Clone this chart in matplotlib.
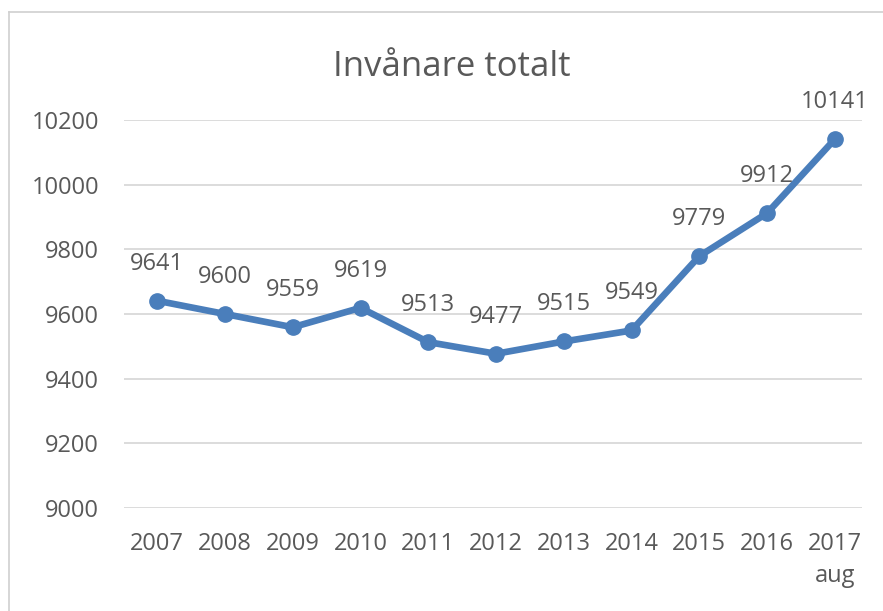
import matplotlib.pyplot as plt
from matplotlib.lines import Line2D

plt.rcParams['font.family'] = ['Open Sans', 'DejaVu Sans']

years = ['2007', '2008', '2009', '2010', '2011', '2012', '2013', '2014', '2015', '2016', '2017\naug']
inhabitants = [9641, 9600, 9559, 9619, 9513, 9477, 9515, 9549, 9779, 9912, 10141]
yticks = [9000, 9200, 9400, 9600, 9800, 10000, 10200]

blue = '#4A7EBB'
grey = '#595959'

fig = plt.figure(figsize=(8.83, 6.11), dpi=100)
ax = fig.add_axes([124/883, 1 - 508/611, 738/883, 388/611])

x = list(range(len(years)))
ax.plot(x, inhabitants, color=blue, lw=4.8, marker='o', ms=11, zorder=3,
        solid_capstyle='round', solid_joinstyle='round')
for xi, v in zip(x, inhabitants):
    ax.annotate(str(v), (xi, v), xytext=(0, 18), textcoords='offset points',
                ha='center', va='bottom', fontsize=17, color=grey)

ax.set_ylim(9000, 10200)
ax.set_yticks(yticks)
ax.set_xlim(-0.49, 10.4)
ax.set_xticks(x)
ax.set_xticklabels(years, linespacing=1.45, va='top')
ax.tick_params(axis='both', length=0, labelsize=17, labelcolor=grey)
ax.tick_params(axis='y', pad=18)
ax.tick_params(axis='x', pad=17)
ax.grid(axis='y', color='#D9D9D9', lw=1.3)
ax.set_axisbelow(True)
for s in ax.spines.values():
    s.set_visible(False)

fig.text(0.512, 1 - 67/611, 'Invånare totalt', ha='center', va='center',
         fontsize=25, color=grey)

# chart frame, only top and left visible in the crop
fig.add_artist(Line2D([9/883, 1], [1 - 12/611, 1 - 12/611], color='#D0D0D0', lw=1.2))
fig.add_artist(Line2D([9/883, 9/883], [0, 1 - 12/611], color='#D0D0D0', lw=1.2))

fig.savefig('out.png', dpi=100)
